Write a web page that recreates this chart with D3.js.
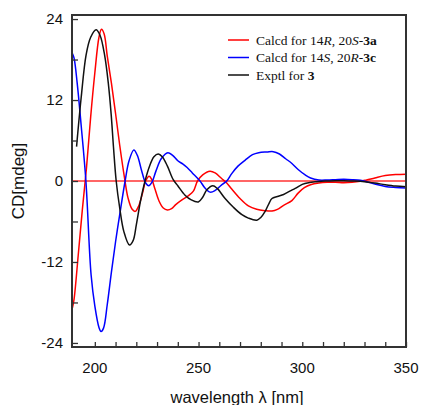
<!DOCTYPE html>
<html lang="en">
	<head>
		<meta charset="UTF-8" />
		<script src="https://d3js.org/d3.v7.min.js"></script>
		<style>
			body { margin: 0; background: #fff; }
			.tick-label { font-family: "Liberation Sans", Arial, sans-serif; font-size: 15px; fill: #111; }
			.axis-title { font-family: "Liberation Sans", Arial, sans-serif; fill: #111; }
			.legend text { font-family: "Liberation Serif", "Times New Roman", serif; font-size: 13.5px; fill: #111; }
		</style>
	</head>
	<body>
		<script>
			// wavelength (nm) / CD (mdeg)
			var calcd3aNm = [189.2, 190, 192, 194, 196, 198, 200, 202, 203.2, 204.5, 206, 208, 210, 212, 214.3, 216, 218, 219.5, 221, 223, 224.5, 226.2, 227.5, 229, 231, 233, 235, 237, 239, 242, 245, 247.5, 249.5, 252, 255.5, 258, 261, 263.6, 266, 270, 274, 278, 282, 285.4, 288, 291, 295, 298, 301, 304, 308, 312, 316, 320, 324, 328, 331, 335, 340, 345, 350];
			var calcd3aCD = [-18.8, -17.5, -11, -4.2, 2, 9.5, 16, 21.3, 22.5, 21.8, 18.5, 14.5, 10, 5.3, 0.5, -2.5, -4.2, -4.5, -3.8, -1.8, 0, 0.7, 0.2, -1.2, -3, -4, -4.3, -4.1, -3.5, -2.8, -2.2, -1.5, 0, 0.9, 1.45, 1.2, 0.4, -0.3, -1.2, -2.6, -3.7, -4.2, -4.4, -4.45, -4.2, -3.6, -2.9, -1.8, -1.0, -0.55, -0.3, -0.2, -0.2, -0.25, -0.2, -0.05, 0.15, 0.45, 0.8, 0.95, 1.0];

			var calcd3cNm = [189.2, 190, 191.5, 193.4, 195.7, 198.2, 200, 202, 203, 204.2, 206, 208, 210, 212, 214.6, 216.5, 218.8, 220.5, 222.5, 224.5, 226, 227.5, 229.5, 232, 235.2, 237.5, 240, 242.5, 244.5, 247, 250.7, 253, 255.6, 258, 261, 263.6, 266, 269, 272.5, 276, 279, 283, 286, 289, 292, 295, 298, 301.4, 304, 308, 312, 316, 320, 324, 328, 331, 335, 340, 345, 350];
			var calcd3cCD = [18.9, 18.2, 14.5, 8.3, 0, -13.9, -18.5, -21.7, -22.3, -21.8, -18.3, -13.5, -9, -5, 0, 3, 4.6, 3.8, 1.6, -0.3, -0.7, -0.2, 1.5, 3.3, 4.2, 3.8, 3.0, 2.5, 2.0, 1.2, 0, -1.0, -1.65, -1.4, -0.6, 0, 1.1, 2.2, 3.1, 3.9, 4.2, 4.3, 4.35, 4.0, 3.3, 2.6, 1.7, 0.9, 0.45, 0.15, 0.15, 0.2, 0.25, 0.2, 0.1, -0.1, -0.45, -0.8, -0.95, -1.05];

			var exptlNm = [191.2, 191.6, 193.4, 195.8, 198, 200.6, 202.5, 204.7, 206.5, 207.9, 209, 210.3, 212, 214, 216.7, 218.5, 220, 222, 224.2, 226.5, 228.5, 230.6, 232.5, 235, 237.8, 240, 243.5, 246.5, 249.9, 252, 254, 256.9, 259, 262.8, 266.8, 270.9, 274, 278.1, 280, 282.1, 284, 285.4, 288, 291, 294, 296.6, 300, 303, 307, 311, 316, 320, 325, 330, 335, 340, 345, 350];
			var exptlCD = [5.1, 6.5, 12.3, 18.7, 21.3, 22.4, 21.6, 18.7, 14.5, 9.8, 5, 0, -4, -7.5, -9.5, -8.8, -6.5, -3, 0, 2.3, 3.6, 4.0, 3.6, 2.2, 0.2, -0.7, -2.1, -2.8, -3.1, -2.4, -1.3, -0.7, -1.1, -2.6, -3.9, -5.0, -5.5, -5.8, -5.4, -4.5, -3.3, -2.6, -2.3, -2.0, -1.5, -1.1, -0.5, -0.25, -0.1, 0, 0.05, 0.05, 0, -0.1, -0.3, -0.55, -0.75, -0.85];

			var seriesNames = ["Calcd for 14R, 20S-3a", "Calcd for 14S, 20R-3c", "Exptl for 3"];
			var seriesColors = ["#ff0000", "#0000ff", "#111111"];
			var xTickLabels = [200, 250, 300, 350];
			var yTickLabels = [-24, -12, 0, 12, 24];

			var W = 424, H = 405;
			var margin = {left: 72, top: 15, right: 18, bottom: 58};
			var pw = W - margin.left - margin.right;
			var ph = H - margin.top - margin.bottom;

			var svg = d3.select("body").append("svg")
				.attr("width", W)
				.attr("height", H);

			var x = d3.scaleLinear().domain([189, 350]).range([0, pw]);
			var y = d3.scaleLinear().domain([-24.6, 24.6]).range([ph, 0]);

			var g = svg.append("g")
				.attr("transform", "translate(" + margin.left + "," + margin.top + ")");

			g.append("clipPath").attr("id", "plot-clip")
				.append("rect").attr("width", pw).attr("height", ph);

			// zero line
			g.append("line")
				.attr("x1", 0).attr("x2", pw)
				.attr("y1", y(0)).attr("y2", y(0))
				.attr("stroke", "#ff3333")
				.attr("stroke-width", 1.3);

			var series = [
				{nm: calcd3aNm, cd: calcd3aCD},
				{nm: calcd3cNm, cd: calcd3cCD},
				{nm: exptlNm, cd: exptlCD}
			];

			var line = d3.line()
				.x(function(d) { return x(d[0]); })
				.y(function(d) { return y(d[1]); })
				.curve(d3.curveCatmullRom.alpha(0.5));

			g.append("g").attr("clip-path", "url(#plot-clip)")
				.selectAll("path").data(series).enter().append("path")
				.attr("d", function(s) { return line(d3.zip(s.nm, s.cd)); })
				.attr("fill", "none")
				.attr("stroke", function(s, i) { return seriesColors[i]; })
				.attr("stroke-width", 1.5);

			// inward ticks
			var xAxis = d3.axisBottom(x).tickValues(d3.range(200, 351, 10))
				.tickSize(-5).tickFormat("");
			g.append("g").attr("transform", "translate(0," + ph + ")").call(xAxis)
				.call(function(a) { a.select(".domain").remove(); a.selectAll("line").attr("stroke", "#333").attr("stroke-width", 1.3); });

			var yAxis = d3.axisLeft(y).tickValues(d3.range(-24, 25, 6))
				.tickSize(-6).tickFormat("");
			g.append("g").call(yAxis)
				.call(function(a) { a.select(".domain").remove(); a.selectAll("line").attr("stroke", "#333").attr("stroke-width", 1.3); });

			g.selectAll(".xlab").data(xTickLabels).enter().append("text")
				.attr("class", "tick-label")
				.attr("x", function(d) { return x(d); })
				.attr("y", ph + 26)
				.attr("text-anchor", "middle")
				.text(function(d) { return d; });

			g.selectAll(".ylab").data(yTickLabels).enter().append("text")
				.attr("class", "tick-label")
				.attr("x", -9)
				.attr("y", function(d) { return y(d); })
				.attr("dy", "0.35em")
				.attr("text-anchor", "end")
				.text(function(d) { return d; });

			// frame
			g.append("rect")
				.attr("width", pw).attr("height", ph)
				.attr("fill", "none")
				.attr("stroke", "#333")
				.attr("stroke-width", 2);

			svg.append("text")
				.attr("class", "axis-title")
				.attr("x", margin.left + pw / 2 - 2)
				.attr("y", 403)
				.attr("text-anchor", "middle")
				.style("font-size", "16.5px")
				.text("wavelength \u03bb [nm]");

			svg.append("text")
				.attr("class", "axis-title")
				.attr("transform", "translate(24," + (margin.top + y(0)) + ") rotate(-90)")
				.attr("text-anchor", "middle")
				.style("font-size", "17px")
				.text("CD[mdeg]");

			// legend
			var legend = svg.append("g").attr("class", "legend")
				.attr("transform", "translate(228,40)");
			var rows = legend.selectAll("g").data(seriesNames).enter().append("g")
				.attr("transform", function(d, i) { return "translate(0," + (i * 17.5) + ")"; });
			rows.append("line")
				.attr("x1", 0).attr("x2", 21)
				.attr("stroke", function(d, i) { return seriesColors[i]; })
				.attr("stroke-width", 1.5);
			var lt = rows.append("text").attr("x", 28).attr("dy", "0.35em");
			// italic stereo descriptors and bold compound numbers
			lt.filter(function(d, i) { return i < 2; }).each(function(d, i) {
				var t = d3.select(this);
				var a = i == 0 ? ["R", "S"] : ["S", "R"];
				var b = i == 0 ? "3a" : "3c";
				t.append("tspan").text("Calcd for 14");
				t.append("tspan").style("font-style", "italic").text(a[0]);
				t.append("tspan").text(", 20");
				t.append("tspan").style("font-style", "italic").text(a[1]);
				t.append("tspan").text("-");
				t.append("tspan").style("font-weight", "bold").text(b);
			});
			lt.filter(function(d, i) { return i == 2; }).each(function() {
				var t = d3.select(this);
				t.append("tspan").text("Exptl for ");
				t.append("tspan").style("font-weight", "bold").text("3");
			});
		</script>
	</body>
</html>
